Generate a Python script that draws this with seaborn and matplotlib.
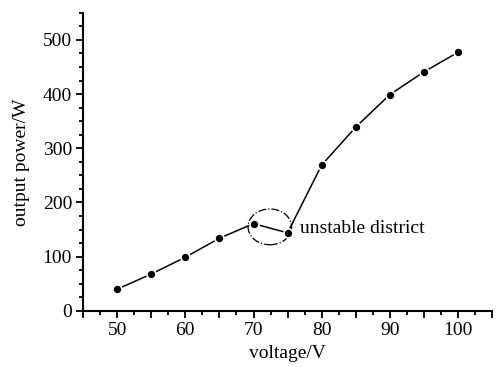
import matplotlib
matplotlib.use("Agg")
import matplotlib.pyplot as plt
import seaborn as sns
import pandas as pd
from matplotlib.patches import Ellipse
from matplotlib.ticker import MultipleLocator, FuncFormatter

voltage = [50, 55, 60, 65, 70, 75, 80, 85, 90, 95, 100]
power = [40, 68, 99, 134, 161, 144, 269, 339, 399, 441, 477]
note_text = "unstable district"

sns.set_style("ticks")
plt.rcParams['font.family'] = ['Liberation Serif', 'DejaVu Serif']
plt.rcParams['text.color'] = 'black'
plt.rcParams['axes.labelcolor'] = 'black'
plt.rcParams['xtick.color'] = 'black'
plt.rcParams['ytick.color'] = 'black'

df = pd.DataFrame({"voltage": voltage, "power": power})

fig = plt.figure(figsize=(5.01, 3.67), dpi=100)
ax = fig.add_axes([0.166, 0.153, 0.816, 0.812])

sns.lineplot(data=df, x="voltage", y="power", ax=ax, color="black",
             linewidth=1.1, marker="o", markersize=6.5,
             markerfacecolor="black", markeredgecolor="white",
             markeredgewidth=1.2)

ax.add_patch(Ellipse((72.4, 155), 6.4, 66, fill=False, edgecolor="black",
                     linestyle="-.", linewidth=0.9))
ax.text(76.8, 152, note_text, fontsize=14, va="center", ha="left", color="black")

ax.set_xlim(45, 105)
ax.set_ylim(0, 550)
ax.xaxis.set_major_locator(MultipleLocator(5))
ax.xaxis.set_minor_locator(MultipleLocator(2.5))
ax.xaxis.set_major_formatter(FuncFormatter(lambda v, p: f"{int(v)}" if v % 10 == 0 else ""))
ax.yaxis.set_major_locator(MultipleLocator(100))
ax.yaxis.set_minor_locator(MultipleLocator(25))

ax.set_xlabel("voltage/V", fontsize=14, labelpad=4)
ax.set_ylabel("output power/W", fontsize=14, labelpad=9)
ax.tick_params(axis="both", which="major", labelsize=14, length=5, width=1.3,
               colors="black", pad=3)
ax.tick_params(axis="both", which="minor", length=3, width=1.3, colors="black")

sns.despine(ax=ax)
for s in ["left", "bottom"]:
    ax.spines[s].set_linewidth(1.5)
    ax.spines[s].set_color("black")

plt.savefig("out.png", dpi=100)
